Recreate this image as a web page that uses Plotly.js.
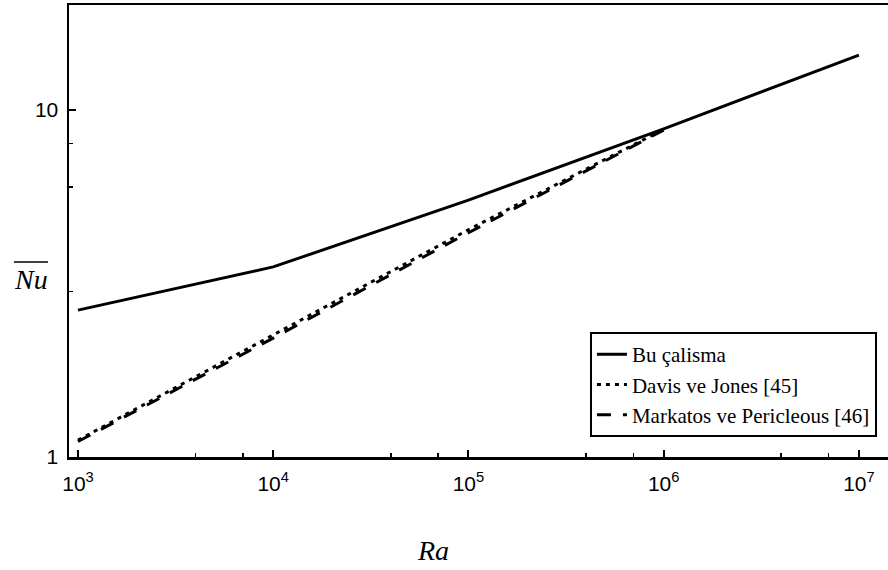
<!DOCTYPE html>
<html>
<head>
<meta charset="utf-8">
<script src="https://cdn.plot.ly/plotly-3.0.1.min.js"></script>
<style>
  html, body { margin: 0; padding: 0; background: #fff; }
  #chart { width: 888px; height: 570px; }
</style>
</head>
<body>
<div id="chart"></div>
<script>
// Rayleigh numbers and mean Nusselt numbers
const raStudy = [1e3, 1e4, 1e5, 1e6, 1e7];
const nuStudy = [2.65, 3.53, 5.50, 8.82, 14.4];

const raDavis = [1e3, 1e4, 1e5, 1e6];
const nuDavis = [1.118, 2.243, 4.519, 8.800];

const raMarkatos = [1e3, 1e4, 1e5, 1e6];
const nuMarkatos = [1.108, 2.201, 4.430, 8.754];

const names = ['Bu çalisma', 'Davis ve Jones [45]', 'Markatos ve Pericleous [46]'];

const xTickVals = [1e3, 1e4, 1e5, 1e6, 1e7];
const xTickText = ['10<sup>3</sup>', '10<sup>4</sup>', '10<sup>5</sup>', '10<sup>6</sup>', '10<sup>7</sup>'];
const xMinorVals = [4e3, 7e3, 4e4, 7e4, 4e5, 7e5, 4e6, 7e6];
const yTickVals = [1, 10];
const yTickText = ['1', '10'];
const yMinorVals = [3, 6, 8];

const serif = 'Liberation Serif, Times New Roman, serif';
const sans = 'Liberation Sans, Arial, sans-serif';

const traces = [
  {
    x: raStudy, y: nuStudy, name: names[0], type: 'scatter', mode: 'lines',
    line: { color: '#000', width: 3, dash: 'solid' }
  },
  {
    x: raDavis, y: nuDavis, name: names[1], type: 'scatter', mode: 'lines',
    line: { color: '#000', width: 3, dash: '4px,5px' }
  },
  {
    x: raMarkatos, y: nuMarkatos, name: names[2], type: 'scatter', mode: 'lines',
    line: { color: '#000', width: 3, dash: '14px,12px' }
  }
];

const axisCommon = {
  type: 'log',
  showgrid: false,
  zeroline: false,
  showline: true,
  linecolor: '#000',
  linewidth: 2.5,
  mirror: true,
  ticks: 'inside',
  tickcolor: '#000',
  tickwidth: 2,
  ticklen: 7,
  tickfont: { family: sans, size: 21, color: '#000' }
};

const layout = {
  width: 888,
  height: 570,
  margin: { l: 69, r: 0, t: 5, b: 113 },
  paper_bgcolor: '#fff',
  plot_bgcolor: '#fff',
  showlegend: true,
  xaxis: Object.assign({}, axisCommon, {
    range: [2.954, 7.149],
    tickmode: 'array',
    tickvals: xTickVals,
    ticktext: xTickText,
    ticklabelstandoff: 6,
    minor: { tickmode: 'array', tickvals: xMinorVals, ticks: 'inside', ticklen: 4, tickwidth: 1.5, tickcolor: '#000' }
  }),
  yaxis: Object.assign({}, axisCommon, {
    range: [0, 1.3026],
    tickmode: 'array',
    tickvals: yTickVals,
    ticktext: yTickText,
    ticklabelstandoff: 4,
    minor: { tickmode: 'array', tickvals: yMinorVals, ticks: 'inside', ticklen: 4, tickwidth: 1.5, tickcolor: '#000' }
  }),
  legend: {
    x: 0.9865, y: 0.044, xanchor: 'right', yanchor: 'bottom',
    bgcolor: '#fff', bordercolor: '#000', borderwidth: 2,
    font: { family: serif, size: 21, color: '#000' },
    tracegroupgap: 0
  },
  annotations: [
    {
      xref: 'paper', yref: 'paper', x: (433 - 69) / 819, y: (457 - 550) / 452,
      xanchor: 'center', yanchor: 'middle', showarrow: false,
      text: '<i>Ra</i>', font: { family: serif, size: 28, color: '#000' }
    },
    {
      xref: 'paper', yref: 'paper', x: (31 - 69) / 819, y: (457 - 279) / 452,
      xanchor: 'center', yanchor: 'middle', showarrow: false,
      text: '<i>Nu</i>', font: { family: serif, size: 28, color: '#000' }
    }
  ],
  shapes: [
    // bar over the Nusselt symbol
    {
      type: 'line', xref: 'paper', yref: 'paper',
      x0: (14 - 69) / 819, x1: (48 - 69) / 819,
      y0: (457 - 262) / 452, y1: (457 - 262) / 452,
      line: { color: '#000', width: 1.5 }
    }
  ]
};

Plotly.newPlot('chart', traces, layout, { staticPlot: true, displayModeBar: false });
</script>
</body>
</html>
